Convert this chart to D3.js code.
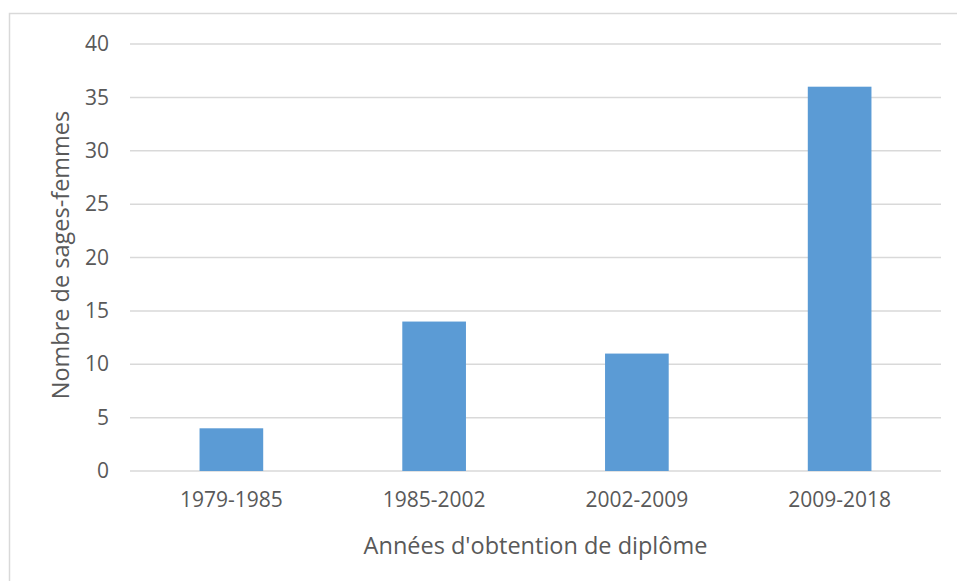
<!DOCTYPE html>
<html>
<head>
<meta charset="utf-8">
<script src="https://cdn.jsdelivr.net/npm/d3@7"></script>
<style>
  body { margin: 0; background: #fff; }
  text { font-family: "Open Sans", "Liberation Sans", sans-serif; fill: #595959; }
</style>
</head>
<body>
<svg></svg>
<script>
var width = 957;
var height = 581;

// data
var periods = ["1979-1985", "1985-2002", "2002-2009", "2009-2018"];
var counts = [4, 14, 11, 36];
var yTicks = [0, 5, 10, 15, 20, 25, 30, 35, 40];

var plot = {left: 130, right: 941, top: 44, bottom: 471};

var svg = d3.select('svg')
    .attr('width', width)
    .attr('height', height);

// chart border (only top and left visible in the picture)
svg.append('rect')
    .attr('x', 9.5)
    .attr('y', 13.5)
    .attr('width', width + 20)
    .attr('height', height + 20)
    .attr('fill', 'none')
    .attr('stroke', '#d9d9d9')
    .attr('stroke-width', 1.5);

var x = d3.scaleBand()
    .domain(periods)
    .range([plot.left, plot.right])
    .paddingInner(0.686)
    .paddingOuter(0.343);

var y = d3.scaleLinear()
    .domain([0, 40])
    .range([plot.bottom, plot.top]);

// gridlines
svg.append('g')
    .selectAll('line')
    .data(yTicks)
    .enter()
    .append('line')
      .attr('x1', plot.left)
      .attr('x2', plot.right)
      .attr('y1', d => y(d))
      .attr('y2', d => y(d))
      .attr('stroke', '#d9d9d9')
      .attr('stroke-width', 1.5);

// bars
svg.append('g')
    .selectAll('rect')
    .data(counts)
    .enter()
    .append('rect')
      .attr('x', (d, i) => x(periods[i]))
      .attr('y', d => y(d))
      .attr('width', x.bandwidth())
      .attr('height', d => y(0) - y(d))
      .attr('fill', '#5b9bd5');

// y tick labels
var yAxis = svg.append('g')
    .attr('transform', 'translate(' + plot.left + ',0)')
    .call(d3.axisLeft(y).tickValues(yTicks).tickSize(0).tickPadding(21));
yAxis.select('.domain').remove();
yAxis.selectAll('text')
    .attr('fill', '#595959')
    .style('font-size', '21px')
    .style('font-family', '"Open Sans", sans-serif');

// x tick labels
var xAxis = svg.append('g')
    .attr('transform', 'translate(0,' + plot.bottom + ')')
    .call(d3.axisBottom(x).tickSize(0).tickPadding(21));
xAxis.select('.domain').remove();
xAxis.selectAll('text')
    .attr('fill', '#595959')
    .style('font-size', '21px')
    .style('font-family', '"Open Sans", sans-serif');

// axis titles
svg.append('text')
    .attr('x', (plot.left + plot.right) / 2)
    .attr('y', 554)
    .attr('text-anchor', 'middle')
    .style('font-size', '23.5px')
    .text("Années d'obtention de diplôme");

svg.append('text')
    .attr('transform', 'translate(69,255) rotate(-90)')
    .attr('text-anchor', 'middle')
    .style('font-size', '23.5px')
    .text('Nombre de sages-femmes');
</script>
</body>
</html>
